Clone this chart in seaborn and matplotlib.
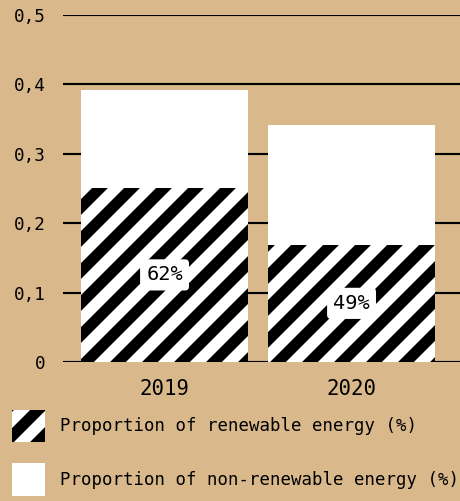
import matplotlib
matplotlib.use('Agg')
import matplotlib.pyplot as plt
from matplotlib.patches import Patch
from matplotlib.ticker import FuncFormatter
import seaborn as sns

# data
years = ['2019', '2020']
total_share = [0.392, 0.341]
renewable_share = [0.251, 0.169]
pct_labels = ['62%', '49%']
legend_labels = ['Proportion of renewable energy (%)',
                 'Proportion of non-renewable energy (%)']

bg = '#d9b98c'
sns.set_style('white')
plt.rcParams['font.family'] = ['DejaVu Sans Mono']
plt.rcParams['text.color'] = 'black'
plt.rcParams['xtick.color'] = 'black'
plt.rcParams['ytick.color'] = 'black'
plt.rcParams['hatch.linewidth'] = 4.2
plt.rcParams['hatch.color'] = 'black'

dpi = 192
fig = plt.figure(figsize=(460 / dpi, 501 / dpi), dpi=dpi, facecolor=bg)
ax = fig.add_axes([63 / 460, 1 - 362 / 501, 1 - 63 / 460, (362 - 15) / 501])
ax.set_facecolor(bg)

sns.barplot(x=years, y=total_share, color='white', saturation=1, width=0.89,
            linewidth=0, ax=ax)
sns.barplot(x=years, y=renewable_share, color='white', saturation=1, width=0.89,
            hatch='//', edgecolor='black', linewidth=0, ax=ax)

ax.bar_label(ax.containers[1], labels=pct_labels, label_type='center',
             fontsize=7.6, color='black',
             bbox=dict(boxstyle='round,pad=0.3,rounding_size=0.2', fc='white', ec='none'))

ax.set_ylim(0, 0.5)
ax.set_xlim(-0.543, 1.58)
ax.set_yticks([0, 0.1, 0.2, 0.3, 0.4, 0.5])
ax.yaxis.set_major_formatter(FuncFormatter(
    lambda v, p: '0' if abs(v) < 1e-9 else f'{v:.1f}'.replace('.', ',')))
ax.set_axisbelow(True)
ax.yaxis.grid(True, color='black', linewidth=0.8)
ax.xaxis.grid(False)
for s in ax.spines.values():
    s.set_visible(False)
ax.tick_params(axis='y', length=0, pad=6.5, labelsize=6.6)
ax.tick_params(axis='x', length=0, pad=6.5, labelsize=7.8)
ax.set_xlabel('')
ax.set_ylabel('')

handles = [Patch(facecolor='white', edgecolor='black', hatch='//', linewidth=0),
           Patch(facecolor='white', edgecolor='none', linewidth=0)]
fig.legend(handles, legend_labels, loc='upper left',
           bbox_to_anchor=(12 / 460, 1 - 410 / 501), frameon=False,
           fontsize=6.5, handlelength=1.9, handleheight=2.5,
           handletextpad=0.85, labelspacing=1.2, borderpad=0, borderaxespad=0)

fig.savefig('out.png', dpi=dpi, facecolor=bg)
